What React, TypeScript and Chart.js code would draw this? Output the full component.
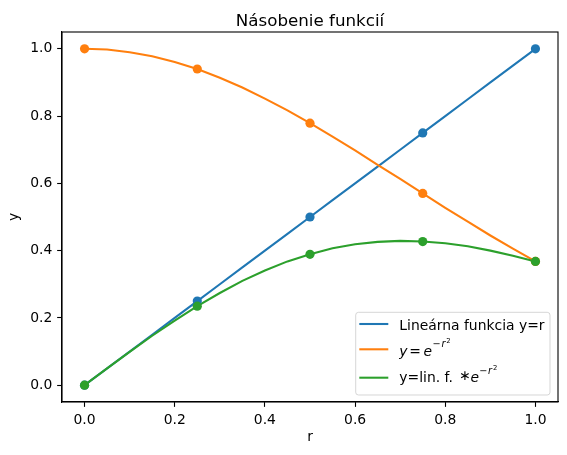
import React, { useEffect, useRef } from 'react';
import { Chart, registerables } from 'chart.js';

Chart.register(...registerables);

// ---- data ----
const markerR = [0, 0.25, 0.5, 0.75, 1.0];
const linearMarkers = [0, 0.25, 0.5, 0.75, 1.0];
const gaussMarkers = [1.0, 0.94, 0.779, 0.57, 0.368];
const productMarkers = [0, 0.235, 0.389, 0.427, 0.368];

const curveR = [0, 0.05, 0.1, 0.15, 0.2, 0.25, 0.3, 0.35, 0.4, 0.45, 0.5, 0.55, 0.6, 0.65, 0.7, 0.75, 0.8, 0.85, 0.9, 0.95, 1.0];
const linearCurve = [0, 0.05, 0.1, 0.15, 0.2, 0.25, 0.3, 0.35, 0.4, 0.45, 0.5, 0.55, 0.6, 0.65, 0.7, 0.75, 0.8, 0.85, 0.9, 0.95, 1.0];
const gaussCurve = [1.0, 0.998, 0.99, 0.978, 0.961, 0.94, 0.914, 0.885, 0.852, 0.817, 0.779, 0.739, 0.698, 0.655, 0.613, 0.57, 0.527, 0.486, 0.445, 0.406, 0.368];
const productCurve = [0, 0.05, 0.099, 0.147, 0.192, 0.235, 0.274, 0.31, 0.341, 0.368, 0.389, 0.407, 0.419, 0.426, 0.429, 0.427, 0.422, 0.413, 0.4, 0.385, 0.368];

const xTicks = [0, 0.2, 0.4, 0.6, 0.8, 1.0];
const yTicks = [0, 0.2, 0.4, 0.6, 0.8, 1.0];

const titleText = 'Násobenie funkcií';
const xLabel = 'r';
const yLabel = 'y';
const legendLinear = 'Lineárna funkcia y=r';

const BLUE = '#1f77b4';
const ORANGE = '#ff7f0e';
const GREEN = '#2ca02c';
const FONT = '"DejaVu Sans"';
const FS = 13.9;

function pts(xs: number[], ys: number[]) {
  return xs.map((x, i) => ({ x, y: ys[i] }));
}

function t(ctx: CanvasRenderingContext2D, s: string, x: number, y: number, size: number, italic = false) {
  ctx.font = `${italic ? 'italic ' : ''}${size}px ${FONT}`;
  ctx.fillText(s, x, y);
}

const overlay = {
  id: 'overlay',
  afterDraw(chart: any) {
    const ctx: CanvasRenderingContext2D = chart.ctx;
    const a = chart.chartArea;
    ctx.save();
    ctx.strokeStyle = '#000';
    ctx.lineWidth = 1.1;
    ctx.strokeRect(a.left, a.top, a.right - a.left, a.bottom - a.top);

    ctx.fillStyle = '#000';
    ctx.textBaseline = 'alphabetic';
    ctx.textAlign = 'center';
    t(ctx, titleText, (a.left + a.right) / 2, 25.5, 16.7);
    t(ctx, xLabel, (a.left + a.right) / 2, 441, FS);
    ctx.save();
    ctx.translate(18, (a.top + a.bottom) / 2);
    ctx.rotate(-Math.PI / 2);
    t(ctx, yLabel, 0, 0, FS);
    ctx.restore();

    const lx = 355.7, ly = 312.3, lw = 194.3, lh = 82.7;
    ctx.beginPath();
    (ctx as any).roundRect(lx, ly, lw, lh, 2.8);
    ctx.fillStyle = 'rgba(255,255,255,0.8)';
    ctx.fill();
    ctx.strokeStyle = 'rgba(204,204,204,0.8)';
    ctx.lineWidth = 1;
    ctx.stroke();

    const handles = [
      { c: BLUE, y: 324 },
      { c: ORANGE, y: 349.3 },
      { c: GREEN, y: 377.7 },
    ];
    ctx.lineWidth = 2.08;
    for (const h of handles) {
      ctx.strokeStyle = h.c;
      ctx.beginPath();
      ctx.moveTo(359.3, h.y);
      ctx.lineTo(388.3, h.y);
      ctx.stroke();
    }

    ctx.fillStyle = '#000';
    ctx.textAlign = 'left';
    const s1 = FS * 0.7;
    const s2 = s1 * 0.7;
    t(ctx, legendLinear, 399.3, 330, FS);
    let b = 355.5;
    t(ctx, 'y', 399.3, b, FS, true);
    t(ctx, '=', 409.3, b, FS);
    t(ctx, 'e', 423.5, b, FS, true);
    t(ctx, '\u2212', 432.5, b - 8.5, s1);
    t(ctx, 'r', 441.5, b - 8.5, s1, true);
    t(ctx, '2', 446.3, b - 12.5, s2);
    b = 382;
    t(ctx, 'y=lin. f.', 399.3, b, FS);
    t(ctx, '\u2217', 459.3, b - 2, FS);
    t(ctx, 'e', 470.5, b, FS, true);
    t(ctx, '\u2212', 479.3, b - 8.5, s1);
    t(ctx, 'r', 488, b - 8.5, s1, true);
    t(ctx, '2', 493, b - 12.5, s2);

    ctx.restore();
  },
};

export default function App() {
  const ref = useRef<HTMLCanvasElement | null>(null);
  useEffect(() => {
    document.body.style.margin = '0';
    const canvas = ref.current;
    if (!canvas) return;
    const lineDs = (data: any, color: string) => ({
      data, showLine: true, borderColor: color, backgroundColor: color,
      borderWidth: 2.08, pointRadius: 0, pointHoverRadius: 0, tension: 0,
    });
    const markDs = (data: any, color: string) => ({
      data, showLine: false, borderColor: color, backgroundColor: color,
      borderWidth: 0, pointRadius: 4.6, pointHoverRadius: 4.6,
    });
    const tickCommon = {
      color: '#000', font: { family: 'DejaVu Sans', size: FS }, padding: 4.86,
      autoSkip: false, maxRotation: 0, callback: (v: any) => Number(v).toFixed(1),
    };
    const gridCommon = {
      display: true, drawOnChartArea: false, drawTicks: true,
      tickLength: 4.86, tickWidth: 1.1, tickColor: '#000',
    };
    const chart = new Chart(canvas, {
      type: 'scatter',
      data: {
        datasets: [
          markDs(pts(markerR, productMarkers), GREEN),
          markDs(pts(markerR, gaussMarkers), ORANGE),
          markDs(pts(markerR, linearMarkers), BLUE),
          lineDs(pts(curveR, productCurve), GREEN),
          lineDs(pts(curveR, gaussCurve), ORANGE),
          lineDs(pts(curveR, linearCurve), BLUE),
        ] as any,
      },
      options: {
        animation: false, responsive: false, devicePixelRatio: 1, events: [],
        layout: { padding: { left: 0, top: 32, right: 9, bottom: 0 } },
        plugins: { legend: { display: false }, tooltip: { enabled: false }, title: { display: false } },
        scales: {
          x: {
            type: 'linear', min: -0.05, max: 1.05,
            grid: gridCommon as any,
            border: { display: true, color: '#000', width: 1.1 },
            ticks: tickCommon as any,
            afterBuildTicks: (s: any) => { s.ticks = xTicks.map((v) => ({ value: v })); },
            afterFit: (s: any) => { s.height = 53; },
          },
          y: {
            type: 'linear', min: -0.05, max: 1.05,
            grid: gridCommon as any,
            border: { display: true, color: '#000', width: 1.1 },
            ticks: tickCommon as any,
            afterBuildTicks: (s: any) => { s.ticks = yTicks.map((v) => ({ value: v })); },
            afterFit: (s: any) => { s.width = 62; },
          },
        },
      },
      plugins: [overlay],
    });
    return () => chart.destroy();
  }, []);
  return <canvas ref={ref} width={567} height={455} style={{ display: 'block', width: 567, height: 455 }} />;
}
